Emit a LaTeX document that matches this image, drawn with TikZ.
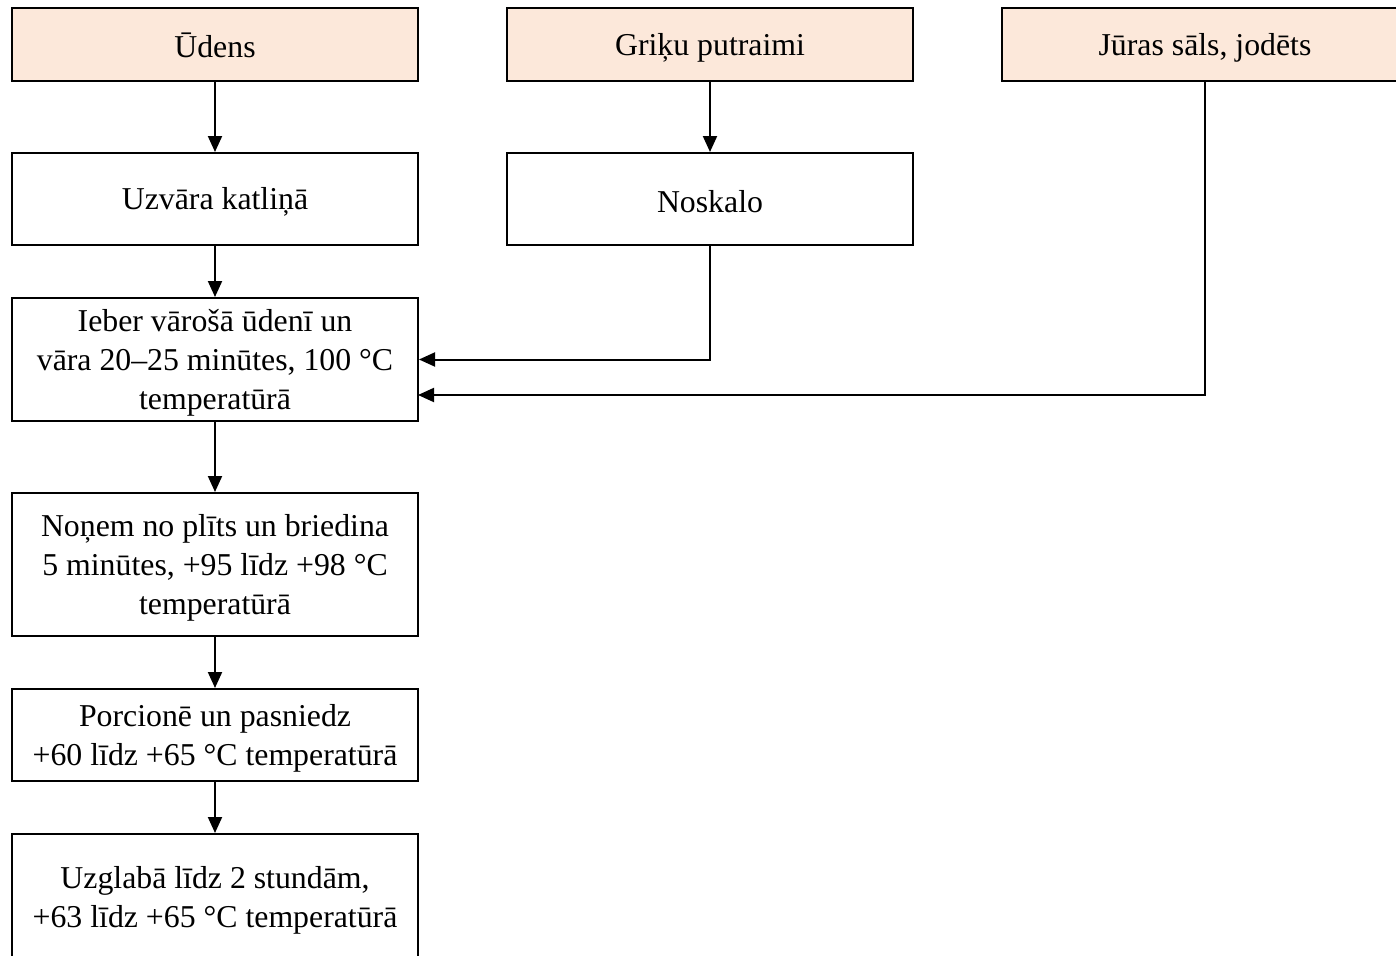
\documentclass[tikz,border=0pt]{standalone}
\usepackage{fontspec}
\setmainfont{Liberation Serif}
\usetikzlibrary{arrows.meta}
\definecolor{peach}{HTML}{FCE8DA}
\newcommand\sx{\rule[-1pt]{0pt}{29pt}}
\tikzset{
  box/.style={draw=black, line width=2pt, minimum width=406pt, inner sep=0pt, align=center,
    font=\fontsize{31.8}{39}\selectfont},
  inbox/.style={box, fill=peach},
  arr/.style={line width=2pt, -{Triangle[length=16pt,width=14pt]}}
}
\begin{document}
\begin{tikzpicture}[x=1pt,y=-1pt]
\useasboundingbox (0,0) rectangle (1396,955);
\clip (0,0) rectangle (1396,955);
\node[inbox, minimum height=73pt] (udens) at (215,44.5) {\sx Ūdens};
\node[inbox, minimum height=73pt] (griki) at (710,44.5) {\sx Griķu putraimi};
\node[inbox, minimum height=73pt] (juras) at (1205,44.5) {\sx Jūras sāls, jodēts};
\node[box, minimum height=92pt] (uzvara) at (215,199) {\sx Uzvāra katliņā};
\node[box, minimum height=92pt] (noskalo) at (710,199) {\sx Noskalo};
\node[box, minimum height=123pt] (ieber) at (215,359.5) {\sx Ieber vārošā ūdenī un\\\sx vāra 20–25 minūtes, 100 °C\\\sx temperatūrā};
\node[box, minimum height=143pt] (nonem) at (215,564.5) {\sx Noņem no plīts un briedina\\\sx 5 minūtes, +95 līdz +98 °C\\\sx temperatūrā};
\node[box, minimum height=92pt] (porc) at (215,735) {\sx Porcionē un pasniedz\\\sx +60 līdz +65 °C temperatūrā};
\node[box, minimum height=126pt] (uzgl) at (215,897) {\sx Uzglabā līdz 2 stundām,\\\sx +63 līdz +65 °C temperatūrā};
\coordinate (jin) at (418,395);
\draw[arr] (udens) -- (uzvara);
\draw[arr] (griki) -- (noskalo);
\draw[arr] (uzvara) -- (ieber);
\draw[arr] (ieber) -- (nonem);
\draw[arr] (nonem) -- (porc);
\draw[arr] (porc) -- (uzgl);
\draw[arr] (noskalo.south) |- (ieber.east);
\draw[arr] (juras.south) |- (jin);
\end{tikzpicture}
\end{document}
